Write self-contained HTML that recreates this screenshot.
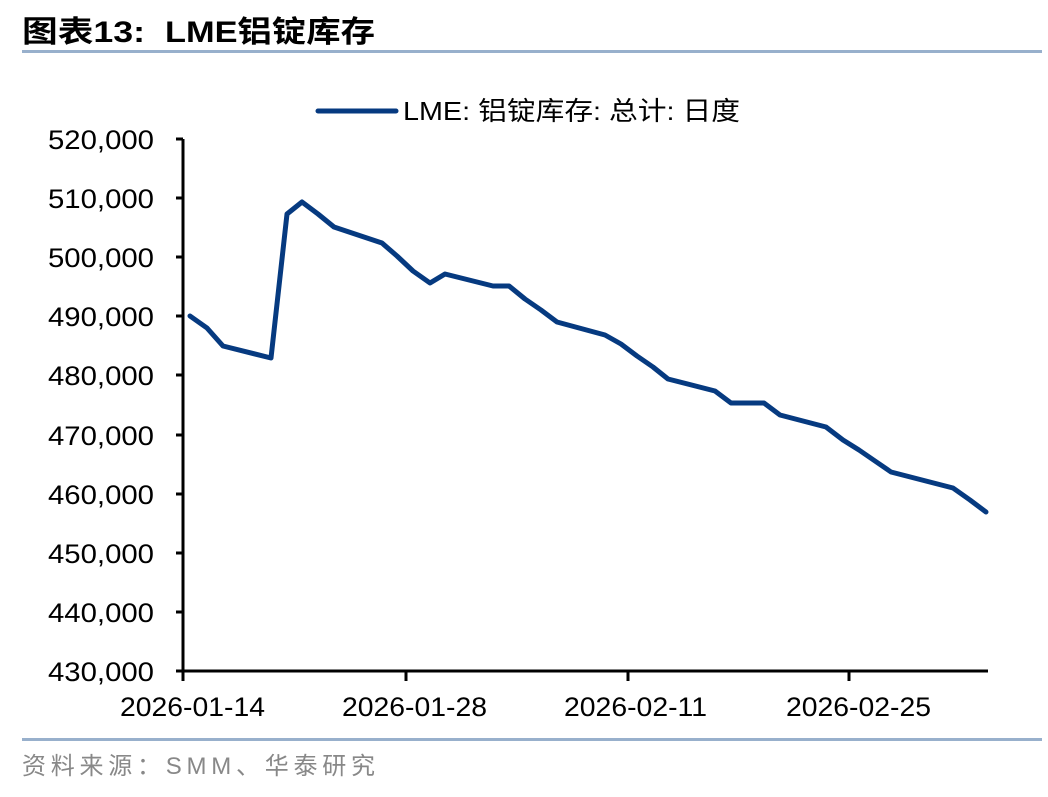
<!DOCTYPE html>
<html><head><meta charset="utf-8"><style>
html,body{margin:0;padding:0;background:#fff;}
body{width:1048px;height:792px;overflow:hidden;position:relative;}
svg text{font-family:"Liberation Sans","Noto Sans CJK SC",sans-serif;}
</style></head><body>
<svg width="1048" height="792" viewBox="0 0 1048 792" xmlns="http://www.w3.org/2000/svg">
<text x="22" y="42" font-size="30" font-weight="bold" fill="#000" textLength="123" lengthAdjust="spacingAndGlyphs">图表13:</text>
<text x="165" y="42" font-size="30" font-weight="bold" fill="#000" textLength="210" lengthAdjust="spacingAndGlyphs">LME铝锭库存</text>
<rect x="22" y="50" width="1020" height="3" fill="#98b0cc"/>
<rect x="22" y="738" width="1020" height="3" fill="#98b0cc"/>
<text x="22" y="774" font-size="24" fill="#888" textLength="353" lengthAdjust="spacing">资料来源：SMM、华泰研究</text>
<line x1="318" y1="111" x2="396" y2="111" stroke="#063a80" stroke-width="5" stroke-linecap="round"/>
<text x="403" y="120" font-size="26" fill="#000" textLength="337" lengthAdjust="spacingAndGlyphs">LME: 铝锭库存: 总计: 日度</text>
<g stroke="#000" stroke-width="3" fill="none">
<line x1="183" y1="139" x2="183" y2="673"/>
<line x1="176" y1="671" x2="988" y2="671"/>
<line x1="176" y1="139" x2="183" y2="139"/><line x1="176" y1="198" x2="183" y2="198"/>
<line x1="176" y1="257" x2="183" y2="257"/><line x1="176" y1="316" x2="183" y2="316"/>
<line x1="176" y1="375" x2="183" y2="375"/><line x1="176" y1="435" x2="183" y2="435"/>
<line x1="176" y1="494" x2="183" y2="494"/><line x1="176" y1="553" x2="183" y2="553"/>
<line x1="176" y1="612" x2="183" y2="612"/>
<line x1="183" y1="671" x2="183" y2="681"/><line x1="406" y1="671" x2="406" y2="681"/>
<line x1="628" y1="671" x2="628" y2="681"/><line x1="849" y1="671" x2="849" y2="681"/>
</g>
<g font-size="27" fill="#000">
<text x="48" y="149" textLength="106" lengthAdjust="spacingAndGlyphs">520,000</text>
<text x="48" y="208" textLength="106" lengthAdjust="spacingAndGlyphs">510,000</text>
<text x="48" y="267" textLength="106" lengthAdjust="spacingAndGlyphs">500,000</text>
<text x="48" y="326" textLength="106" lengthAdjust="spacingAndGlyphs">490,000</text>
<text x="48" y="385" textLength="106" lengthAdjust="spacingAndGlyphs">480,000</text>
<text x="48" y="445" textLength="106" lengthAdjust="spacingAndGlyphs">470,000</text>
<text x="48" y="504" textLength="106" lengthAdjust="spacingAndGlyphs">460,000</text>
<text x="48" y="563" textLength="106" lengthAdjust="spacingAndGlyphs">450,000</text>
<text x="48" y="622" textLength="106" lengthAdjust="spacingAndGlyphs">440,000</text>
<text x="48" y="681" textLength="106" lengthAdjust="spacingAndGlyphs">430,000</text>
</g>
<g font-size="27" fill="#000">
<text x="120" y="716" textLength="145" lengthAdjust="spacingAndGlyphs">2026-01-14</text>
<text x="342" y="716" textLength="145" lengthAdjust="spacingAndGlyphs">2026-01-28</text>
<text x="564" y="716" textLength="143" lengthAdjust="spacingAndGlyphs">2026-02-11</text>
<text x="786" y="716" textLength="145" lengthAdjust="spacingAndGlyphs">2026-02-25</text>
</g>
<polyline fill="none" stroke="#063a80" stroke-width="5" stroke-linejoin="round" stroke-linecap="round"
points="190,316 207,328 223,346 271,358 287,214 302,202 318,214 334,227 382,243 397,256 413,271 430,283 445,274 493,286 509,286 525,299 541,310 557,322 605,335 621,344 637,356 653,367 668,379 715,391 731,403 764,403 780,415 826,427 843,440 859,450 875,461 891,472 953,488 970,500 986,512"/>
</svg>
</body></html>
